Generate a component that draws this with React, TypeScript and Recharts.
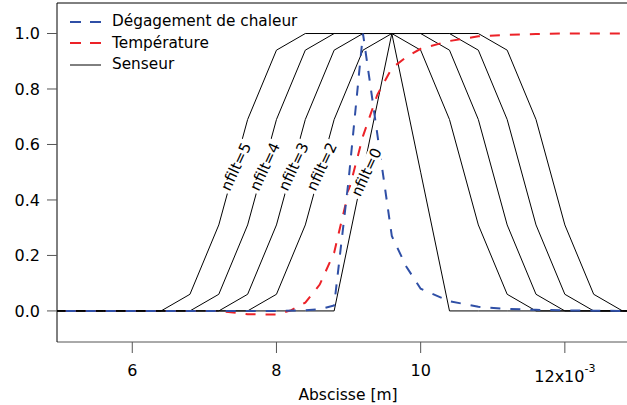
import { LineChart, Line, XAxis, YAxis, ReferenceLine, ReferenceDot, Label } from 'recharts';

const FONT = '"DejaVu Sans", Verdana, sans-serif';

// sensor curves share one abscissa grid (x10^-3 m)
const SENS_X = [4.8, 5.2, 5.6, 6.0, 6.4, 6.8, 7.2, 7.6, 8.0, 8.4, 8.8, 9.2, 9.6, 10.0, 10.4, 10.8, 11.2, 11.6, 12.0, 12.4, 12.8, 13.2];
const NFILT0 = [0, 0, 0, 0, 0, 0, 0, 0, 0, 0, 0, 0.5, 1, 0.5, 0, 0, 0, 0, 0, 0, 0, 0];
const NFILT2 = [0, 0, 0, 0, 0, 0, 0, 0, 0.06, 0.31, 0.69, 0.94, 1, 0.94, 0.69, 0.31, 0.06, 0, 0, 0, 0, 0];
const NFILT3 = [0, 0, 0, 0, 0, 0, 0, 0.06, 0.31, 0.69, 0.94, 1, 1, 1, 0.94, 0.69, 0.31, 0.06, 0, 0, 0, 0];
const NFILT4 = [0, 0, 0, 0, 0, 0, 0.06, 0.31, 0.69, 0.94, 1, 1, 1, 1, 1, 0.94, 0.69, 0.31, 0.06, 0, 0, 0];
const NFILT5 = [0, 0, 0, 0, 0, 0.06, 0.31, 0.69, 0.94, 1, 1, 1, 1, 1, 1, 1, 0.94, 0.69, 0.31, 0.06, 0, 0];

const TEMP_X = [4.8, 5.2, 5.6, 6.0, 6.4, 6.8, 7.2, 7.6, 8.0, 8.2, 8.4, 8.6, 8.8, 9.0, 9.2, 9.4, 9.6, 9.8, 10.0, 10.4, 10.8, 11.2, 11.6, 12.0, 12.4, 12.8, 13.2];
const TEMP_Y = [0, 0, 0, 0, 0, 0, 0, -0.012, -0.013, 0.002, 0.03, 0.095, 0.21, 0.43, 0.63, 0.78, 0.875, 0.915, 0.945, 0.973, 0.99, 0.995, 0.998, 1, 1, 1, 1];

const HEAT_X = [4.8, 5.2, 5.6, 6.0, 6.4, 6.8, 7.2, 7.6, 8.0, 8.4, 8.6, 8.8, 9.0, 9.2, 9.6, 9.8, 10.0, 10.4, 10.8, 11.2, 11.6, 12.0, 12.4, 12.8, 13.2];
const HEAT_Y = [0, 0, 0, 0, 0, 0, 0, 0, 0, 0.002, 0.006, 0.02, 0.47, 1, 0.27, 0.16, 0.08, 0.035, 0.015, 0.007, 0.004, 0.002, 0.001, 0, 0];

const X_TICKS = [6, 8, 10, 12];
const Y_TICKS = [0, 0.2, 0.4, 0.6, 0.8, 1.0];

const TAG_NAMES = ['nfilt=5', 'nfilt=4', 'nfilt=3', 'nfilt=2', 'nfilt=0'];
const TAG_X = [7.44, 7.84, 8.24, 8.63, 9.25];
const TAG_Y = [0.52, 0.52, 0.52, 0.52, 0.5];

const BLUE = '#2f4fa6';
const RED = '#ec2228';

const pts = (xs: number[], ys: number[]) => xs.map((x, i) => ({ x, y: ys[i] }));

function XTick(props: any) {
  const { x, y, payload } = props;
  if (payload.value === 12) {
    return (
      <text x={x} y={y + 27} textAnchor="middle" fontSize={16} fontFamily={FONT} fill="#000">
        12x10
        <tspan dy={-10} fontSize={11}>-3</tspan>
      </text>
    );
  }
  return (
    <text x={x} y={y + 21} textAnchor="middle" fontSize={16} fontFamily={FONT} fill="#000">
      {payload.value}
    </text>
  );
}

function Tag(props: any) {
  const { cx, cy, text } = props;
  return (
    <g transform={`translate(${cx},${cy}) rotate(-65)`}>
      <rect x={-28} y={-8} width={56} height={16} fill="#fff" />
      <text x={0} y={0} textAnchor="middle" dominantBaseline="central" fontSize={15} fontFamily={FONT} fill="#000">
        {text}
      </text>
    </g>
  );
}

const LEGEND = [
  { label: 'Dégagement de chaleur', color: BLUE, dash: '11 9', width: 2 },
  { label: 'Température', color: RED, dash: '11 9', width: 2 },
  { label: 'Senseur', color: '#000', dash: undefined, width: 1 },
];

export default function App() {
  const sensors = [NFILT0, NFILT2, NFILT3, NFILT4, NFILT5];
  return (
    <div style={{ position: 'absolute', left: 0, top: 0, width: 627, height: 405, background: '#fff' }}>
      <LineChart width={627} height={405} margin={{ top: 3, right: 0, left: 0, bottom: 0 }} style={{ fontFamily: FONT }}>
        <XAxis
          type="number"
          dataKey="x"
          domain={[4.956, 12.862]}
          allowDataOverflow
          ticks={X_TICKS}
          tick={<XTick />}
          tickSize={11}
          tickMargin={2}
          height={63}
          stroke="#555"
        >
          <Label value="Abscisse [m]" position="insideBottom" offset={5} dx={6} fontSize={15.5} fontFamily={FONT} fill="#000" />
        </XAxis>
        <YAxis
          type="number"
          dataKey="y"
          domain={[-0.112, 1.11]}
          allowDataOverflow
          ticks={Y_TICKS}
          tickFormatter={(v: number) => v.toFixed(1)}
          tick={{ fill: '#000', fontSize: 16, fontFamily: FONT }}
          tickSize={10}
          tickMargin={7}
          width={57}
          axisLine={{ stroke: '#000' }}
          tickLine={{ stroke: '#555' }}
        />
        <ReferenceLine y={1.11} stroke="#000" />
        {sensors.map((ys, i) => (
          <Line
            key={`s${i}`}
            data={pts(SENS_X, ys)}
            dataKey="y"
            type="linear"
            stroke="#000"
            strokeWidth={1}
            dot={false}
            isAnimationActive={false}
          />
        ))}
        {TAG_NAMES.map((t, i) => (
          <ReferenceDot key={t} x={TAG_X[i]} y={TAG_Y[i]} r={0} shape={(p: any) => <Tag {...p} text={t} />} />
        ))}
        <Line
          data={pts(TEMP_X, TEMP_Y)}
          dataKey="y"
          type="linear"
          stroke={RED}
          strokeWidth={2}
          strokeDasharray="10 10"
          dot={false}
          isAnimationActive={false}
        />
        <Line
          data={pts(HEAT_X, HEAT_Y)}
          dataKey="y"
          type="linear"
          stroke={BLUE}
          strokeWidth={2}
          strokeDasharray="10 10"
          dot={false}
          isAnimationActive={false}
        />
      </LineChart>
      <div style={{ position: 'absolute', left: 70, top: 11, fontFamily: FONT, fontSize: 15.3, lineHeight: '21.5px' }}>
        {LEGEND.map((l) => (
          <div key={l.label} style={{ display: 'flex', alignItems: 'center', height: 21.5 }}>
            <svg width={42} height={10}>
              <line x1={0} y1={5} x2={31} y2={5} stroke={l.color} strokeWidth={l.width} strokeDasharray={l.dash} />
            </svg>
            <span>{l.label}</span>
          </div>
        ))}
      </div>
    </div>
  );
}
